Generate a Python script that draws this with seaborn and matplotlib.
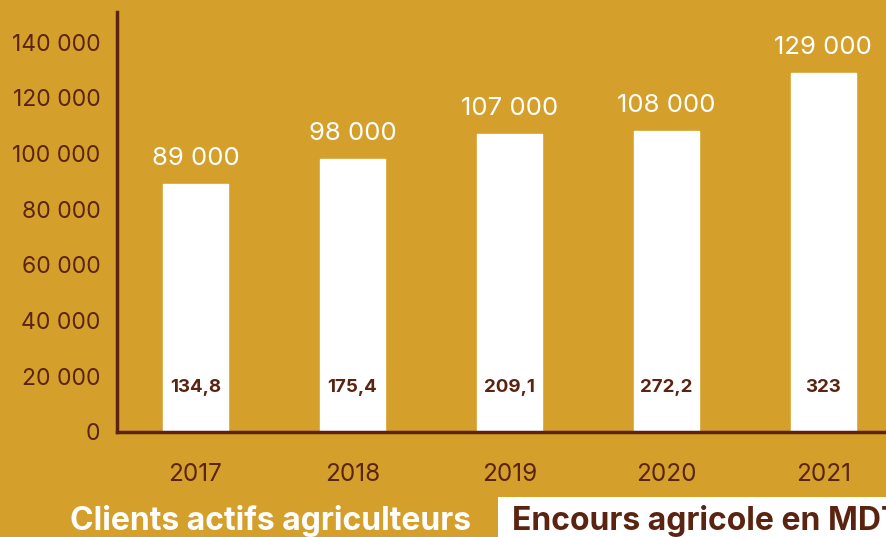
import matplotlib
matplotlib.use("Agg")
import matplotlib.pyplot as plt
import matplotlib.ticker as mticker
from matplotlib.patches import Rectangle
import seaborn as sns
import pandas as pd

years = ["2017", "2018", "2019", "2020", "2021"]
clients = [89000, 98000, 107000, 108000, 129000]
encours = ["134,8", "175,4", "209,1", "272,2", "323"]
y_ticks = [0, 20000, 40000, 60000, 80000, 100000, 120000, 140000]

BG = "#D4A02B"
BROWN = "#5A2410"

sns.set_theme(style="white")
plt.rcParams["font.family"] = ["Inter", "DejaVu Sans"]

df = pd.DataFrame({"year": years, "clients": clients})

fig = plt.figure(figsize=(8.86, 5.37), dpi=100, facecolor=BG)
ax = fig.add_axes([117 / 886, 105 / 537, 769 / 886, 420 / 537])
ax.set_facecolor(BG)

sns.barplot(data=df, x="year", y="clients", color="white", saturation=1,
            width=0.414, ax=ax)

ax.set_xlim(-0.5, 4.4)
ax.set_ylim(0, 150800)
ax.set_yticks(y_ticks)
ax.yaxis.set_major_formatter(mticker.FuncFormatter(
    lambda v, p: f"{int(v):,}".replace(",", " ")))
ax.tick_params(axis="y", length=0, pad=12, labelsize=16.5, labelcolor=BROWN)
ax.tick_params(axis="x", length=0, pad=22, labelsize=17.5, labelcolor=BROWN)
ax.set_xlabel("")
ax.set_ylabel("")

for s in ["top", "right"]:
    ax.spines[s].set_visible(False)
for s in ["left", "bottom"]:
    ax.spines[s].set_color(BROWN)
    ax.spines[s].set_linewidth(2.5)

for i, (v, e) in enumerate(zip(clients, encours)):
    ax.annotate(f"{v:,}".replace(",", " "), (i, v), xytext=(0, 10),
                textcoords="offset points", ha="center", va="bottom",
                color="white", fontsize=18.5)
    ax.text(i, 16000, e, ha="center", va="center", color=BROWN,
            fontsize=13.5, fontweight="bold")

fig.text(70 / 886, 16 / 537, "Clients actifs agriculteurs", color="white",
         fontsize=23, fontweight="bold", va="center", ha="left")
fig.patches.append(Rectangle((498 / 886, 0), 400 / 886, 40 / 537,
                             transform=fig.transFigure, facecolor="white",
                             edgecolor="none", zorder=1))
fig.text(512 / 886, 16 / 537, "Encours agricole en MDT", color=BROWN,
         fontsize=23, fontweight="bold", va="center", ha="left", zorder=2)

fig.savefig("out.png", dpi=100, facecolor=BG)
